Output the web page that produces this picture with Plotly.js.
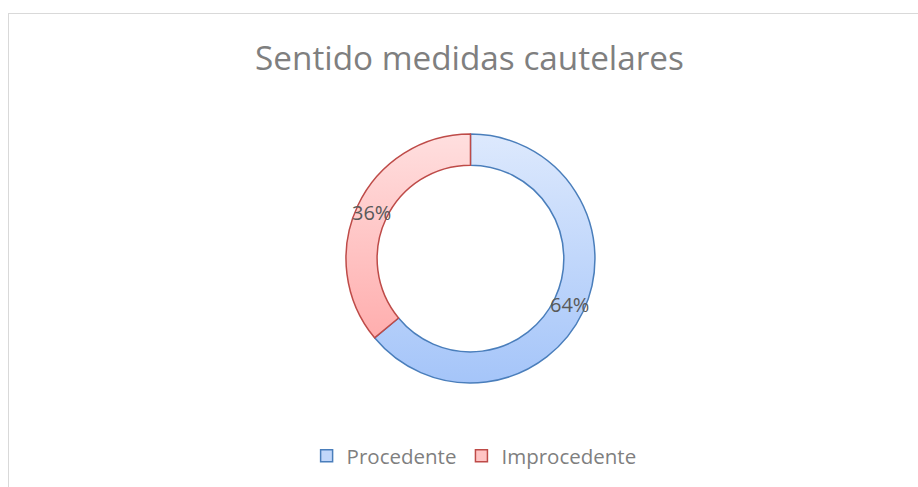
<!DOCTYPE html>
<html>
<head>
<meta charset="utf-8">
<script src="https://cdn.plot.ly/plotly-3.0.1.min.js"></script>
<style>
html,body{margin:0;padding:0;background:#fff;overflow:hidden;}
#wrap{position:relative;width:918px;height:487px;overflow:hidden;}
#frame{position:absolute;left:8px;top:13px;width:1000px;height:600px;border:1px solid #d9d9d9;box-sizing:border-box;pointer-events:none;}
#chart{position:absolute;left:0;top:0;width:918px;height:487px;}
</style>
</head>
<body>
<div id="wrap">
<div id="chart"></div>
<div id="frame"></div>
</div>
<script>
const chartTitle = "Sentido medidas cautelares";
const categories = ["Procedente", "Improcedente"];
const values = [64, 36];
const fillColors = ["#c2d7fa", "#ffc4c4"];
const lineColors = ["#4a7ebb", "#be4b48"];

const W = 918, H = 487;
const domX = [0.3769, 0.6481], domY = [0.2136, 0.7248];
const holeFrac = 0.75;
const FONT = "'Open Sans', 'Noto Sans', sans-serif";

const trace = {
  type: "pie",
  labels: categories,
  values: values,
  hole: holeFrac,
  sort: false,
  direction: "clockwise",
  rotation: 0,
  textinfo: "none",
  marker: {colors: fillColors, line: {color: lineColors, width: 1.5}},
  domain: {x: domX, y: domY},
  hoverinfo: "label+percent"
};

// percentage labels placed at each slice's mid-angle, mid-ring (derived from the data)
const total = values.reduce((a, b) => a + b, 0);
const cxPx = (domX[0] + domX[1]) / 2 * W;
const cyPx = (domY[0] + domY[1]) / 2 * H;
const R = Math.min((domX[1] - domX[0]) * W, (domY[1] - domY[0]) * H) / 2;
const rMid = R * (1 + holeFrac) / 2;
let cum = 0;
const annotations = values.map(function(v) {
  const mid = (cum + v / 2) / total * 2 * Math.PI;
  cum += v;
  const x = cxPx + rMid * Math.sin(mid);
  const y = cyPx + rMid * Math.cos(mid);
  return {
    xref: "paper", yref: "paper", x: x / W, y: y / H,
    xanchor: "center", yanchor: "middle", showarrow: false,
    text: Math.round(v / total * 100) + "%",
    font: {family: FONT, size: 20, color: "#595959"}
  };
});

const layout = {
  width: W, height: H,
  margin: {l: 0, r: 0, t: 0, b: 0},
  paper_bgcolor: "rgba(0,0,0,0)",
  plot_bgcolor: "rgba(0,0,0,0)",
  title: {text: chartTitle, x: 0.5114, xanchor: "center", y: 0.881, yanchor: "middle",
          font: {family: FONT, size: 33.3, color: "#7f7f7f"}},
  showlegend: true,
  legend: {orientation: "h", x: 0.334, xanchor: "left", y: 0.0637, yanchor: "middle",
           font: {family: FONT, size: 20.5, color: "#7f7f7f"},
           itemwidth: 30, traceorder: "normal"},
  annotations: annotations
};

Plotly.newPlot("chart", [trace], layout, {displayModeBar: false, staticPlot: true}).then(function(gd){
  const svg = gd.querySelector("svg.main-svg");
  const ns = "http://www.w3.org/2000/svg";
  const paths = gd.querySelectorAll(".pielayer .slice path.surface");
  if (!paths.length) return;
  const bb = paths[0].getBBox();
  const top = bb.y, bot = bb.y + bb.height;
  const defs = document.createElementNS(ns, "defs");
  const grads = [["gBlue", "#dde9fd", "#a5c5f9"], ["gRed", "#ffdfdf", "#ffa3a3"]];
  grads.forEach(function(g){
    const lg = document.createElementNS(ns, "linearGradient");
    lg.setAttribute("id", g[0]);
    lg.setAttribute("gradientUnits", "userSpaceOnUse");
    lg.setAttribute("x1", 0); lg.setAttribute("x2", 0);
    lg.setAttribute("y1", top); lg.setAttribute("y2", bot);
    const s1 = document.createElementNS(ns, "stop"); s1.setAttribute("offset", "0"); s1.setAttribute("stop-color", g[1]);
    const s2 = document.createElementNS(ns, "stop"); s2.setAttribute("offset", "1"); s2.setAttribute("stop-color", g[2]);
    lg.appendChild(s1); lg.appendChild(s2); defs.appendChild(lg);
  });
  svg.insertBefore(defs, svg.firstChild);
  paths.forEach(function(p, i){
    p.style.fill = "url(#" + grads[i][0] + ")";
  });
});
</script>
</body>
</html>
